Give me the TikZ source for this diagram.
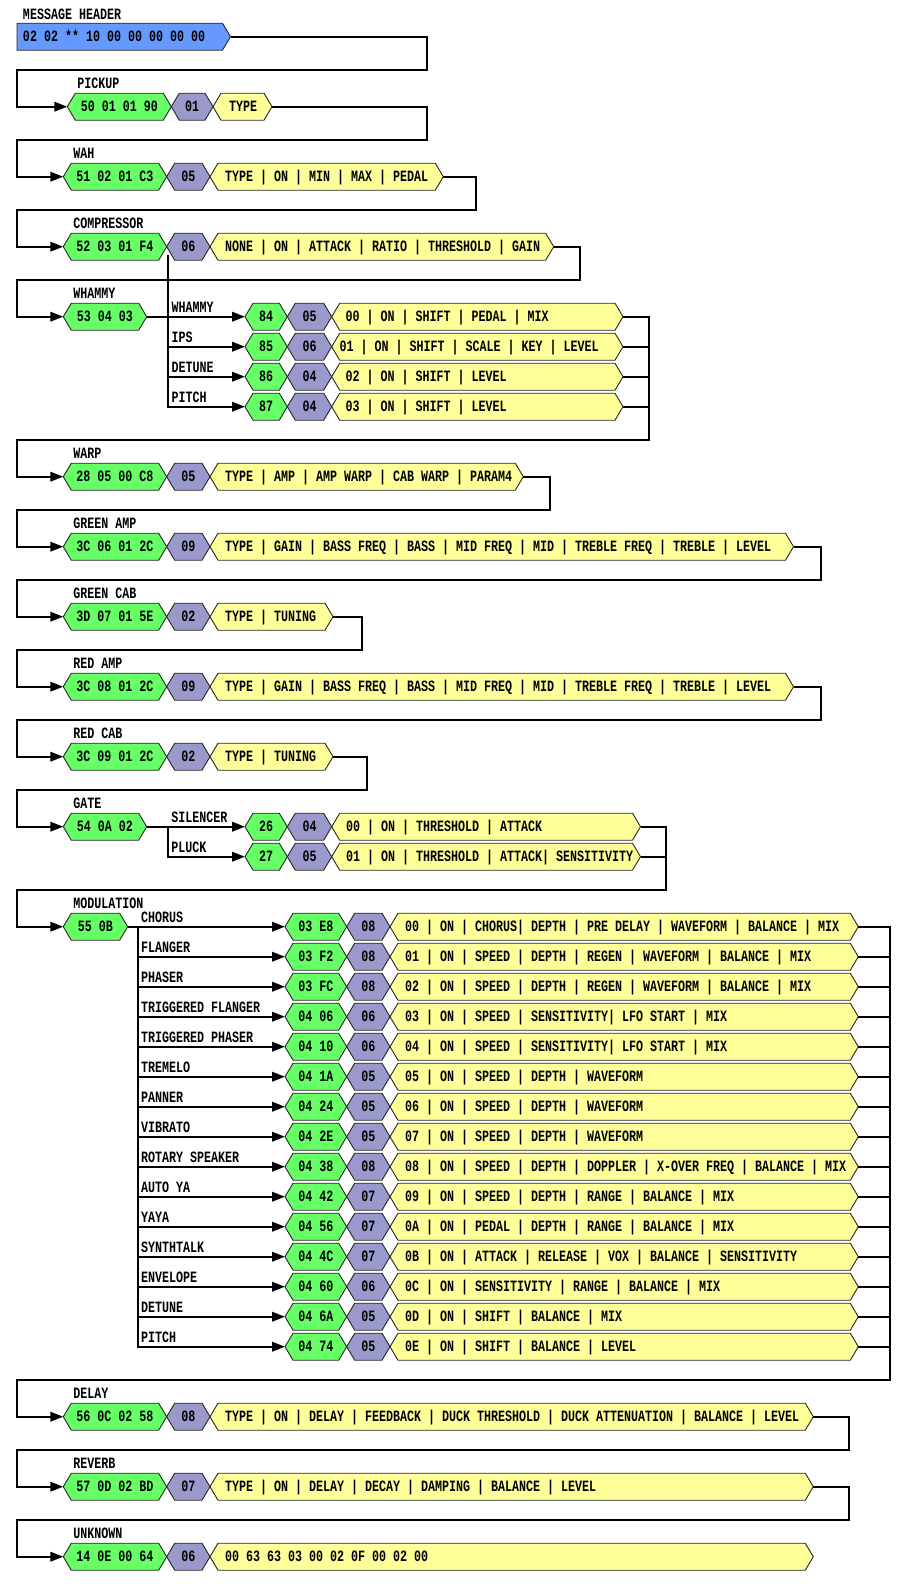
\documentclass[tikz,border=0pt]{standalone}
\usepackage{fontspec}
\usetikzlibrary{arrows.meta}
\newfontfamily\regfont{Liberation Mono}

\definecolor{hxgreen}{HTML}{66FF66}
\definecolor{hxpurple}{HTML}{9999CC}
\definecolor{hxyellow}{HTML}{FFFF99}
\definecolor{hxblue}{HTML}{6699FF}

% tall narrow lettering
\newcommand\tx[1]{\scalebox{1}[1.35]{#1}}

\tikzset{
  cell/.style={inner sep=0pt, outer sep=0pt, minimum height=27pt},
  hexline/.style={draw=black!85, line width=0.9pt, line join=miter},
  txt/.style={inner sep=0pt, outer sep=0pt, font=\regfont\bfseries\fontsize{11.667}{14}\selectfont},
  wire/.style={line width=2pt, black},
  arr/.style={wire, -{Triangle[length=13pt,width=9.5pt]}},
}

% hexagonal field: name, fill, left x, right x, row y
\newcommand\hexcell[5]{%
  \node[cell, minimum width={(#4)-(#3)}] (#1) at ({((#3)+(#4))/2},#5) {};
  \filldraw[hexline, fill=#2] (#1.west) -- ([xshift=8pt]#1.north west)
    -- ([xshift=-8pt]#1.north east) -- (#1.east) -- ([xshift=-8pt]#1.south east)
    -- ([xshift=8pt]#1.south west) -- cycle;}
% centred and left-set field texts
\newcommand\ctext[2]{\node[txt, anchor=base] (#1t) at ([yshift=-4.5pt]#1.center) {\tx{#2}};}
\newcommand\ltext[3]{\node[txt, anchor=base west] (#1t) at ([xshift=#2pt,yshift=-4.5pt]#1.west) {\tx{#3}};}
% one main record: name, row y, green right x, yellow right x, id, size, fields
\newcommand\entry[7]{%
  \hexcell{#1g}{hxgreen}{63.3}{#3}{#2}\ctext{#1g}{#5}%
  \hexcell{#1p}{hxpurple}{#3}{#3+43.3}{#2}\ctext{#1p}{#6}%
  \hexcell{#1y}{hxyellow}{#3+43.3}{#4}{#2}\ltext{#1y}{15}{#7}}
\newcommand\rowlabel[3]{\node[txt, anchor=base west] (#1) at ([xshift=10pt,yshift=18pt]#2.west) {\tx{#3}};}
% return connector: from, to, turn x, turn y
\newcommand\link[4]{\draw[arr] (#1.east) -| (#3,#4) -- (17,#4) |- (#2.west);}

\begin{document}
\begin{tikzpicture}[x=1pt,y=-1pt]
\useasboundingbox (0,0) rectangle (909,1588);

% header
\node[cell, minimum width=213.5] (hd) at (123.75,36.7) {};
\filldraw[hexline, fill=hxblue] (hd.north west) -- ([xshift=-8pt]hd.north east)
  -- (hd.east) -- ([xshift=-8pt]hd.south east) -- (hd.south west) -- cycle;
\ltext{hd}{6}{02 02 ** 10 00 00 00 00 00}
\node[txt, anchor=base west] (hdl) at ([xshift=6pt,yshift=17.5pt]hd.west) {\tx{MESSAGE HEADER}};

% pickup
\hexcell{pkg}{hxgreen}{67.3}{171.3}{106.7}\ctext{pkg}{50 01 01 90}
\hexcell{pkp}{hxpurple}{171.3}{213}{106.7}\ctext{pkp}{01}
\hexcell{pky}{hxyellow}{213}{272}{106.7}\ltext{pky}{16}{TYPE}
\rowlabel{pkl}{pkg}{PICKUP}

\entry{wa}{176.7}{166.7}{443.3}{51 02 01 C3}{05}{TYPE | ON | MIN | MAX | PEDAL}
\rowlabel{wal}{wag}{WAH}
\entry{co}{246.7}{166.7}{553.7}{52 03 01 F4}{06}{NONE | ON | ATTACK | RATIO | THRESHOLD | GAIN}
\rowlabel{col}{cog}{COMPRESSOR}

% whammy
\hexcell{whg}{hxgreen}{63.3}{146.7}{316.7}\ctext{whg}{53 04 03}
\rowlabel{whl}{whg}{WHAMMY}
\foreach \k/\yy/\gtx/\ptx/\off/\ytx/\lb in {
  1/316.7/84/05/14/{00 | ON | SHIFT | PEDAL | MIX}/WHAMMY,
  2/346.7/85/06/8/{01 | ON | SHIFT | SCALE | KEY | LEVEL}/IPS,
  3/376.7/86/04/14/{02 | ON | SHIFT | LEVEL}/DETUNE,
  4/406.7/87/04/14/{03 | ON | SHIFT | LEVEL}/PITCH}{
  \hexcell{w\k g}{hxgreen}{245}{287.3}{\yy}\ctext{w\k g}{\gtx}
  \hexcell{w\k p}{hxpurple}{287.3}{331.7}{\yy}\ctext{w\k p}{\ptx}
  \hexcell{w\k y}{hxyellow}{331.7}{623}{\yy}\ltext{w\k y}{\off}{\ytx}
  \node[txt, anchor=base west] (w\k l) at (171.7,{\yy-4.5}) {\tx{\lb}};
}

\entry{wp}{476.7}{166.7}{523.3}{28 05 00 C8}{05}{TYPE | AMP | AMP WARP | CAB WARP | PARAM4}
\rowlabel{wpl}{wpg}{WARP}
\entry{ga}{546.7}{166.7}{793.5}{3C 06 01 2C}{09}{TYPE | GAIN | BASS FREQ | BASS | MID FREQ | MID | TREBLE FREQ | TREBLE | LEVEL}
\rowlabel{gal}{gag}{GREEN AMP}
\entry{gc}{616.7}{166.7}{333}{3D 07 01 5E}{02}{TYPE | TUNING}
\rowlabel{gcl}{gcg}{GREEN CAB}
\entry{ra}{686.7}{166.7}{793.5}{3C 08 01 2C}{09}{TYPE | GAIN | BASS FREQ | BASS | MID FREQ | MID | TREBLE FREQ | TREBLE | LEVEL}
\rowlabel{ral}{rag}{RED AMP}
\entry{rc}{756.7}{166.7}{333}{3C 09 01 2C}{02}{TYPE | TUNING}
\rowlabel{rcl}{rcg}{RED CAB}

% gate
\hexcell{gtg}{hxgreen}{63.3}{146.7}{826.7}\ctext{gtg}{54 0A 02}
\rowlabel{gtl}{gtg}{GATE}
\foreach \k/\yy/\gtx/\ptx/\ytx/\lb in {
  1/826.7/26/04/{00 | ON | THRESHOLD | ATTACK}/SILENCER,
  2/856.7/27/05/{01 | ON | THRESHOLD | ATTACK| SENSITIVITY}/PLUCK}{
  \hexcell{g\k g}{hxgreen}{245}{287.3}{\yy}\ctext{g\k g}{\gtx}
  \hexcell{g\k p}{hxpurple}{287.3}{331.7}{\yy}\ctext{g\k p}{\ptx}
  \hexcell{g\k y}{hxyellow}{331.7}{640.5}{\yy}\ltext{g\k y}{14.5}{\ytx}
  \node[txt, anchor=base west] (g\k l) at (171.3,{\yy-4.5}) {\tx{\lb}};
}

% modulation
\hexcell{mog}{hxgreen}{63.3}{127.7}{926.7}\ctext{mog}{55 0B}
\rowlabel{mol}{mog}{MODULATION}
\foreach \k/\gtx/\ptx/\ytx/\lb in {
  1/03 E8/08/{00 | ON | CHORUS| DEPTH | PRE DELAY | WAVEFORM | BALANCE | MIX}/CHORUS,
  2/03 F2/08/{01 | ON | SPEED | DEPTH | REGEN | WAVEFORM | BALANCE | MIX}/FLANGER,
  3/03 FC/08/{02 | ON | SPEED | DEPTH | REGEN | WAVEFORM | BALANCE | MIX}/PHASER,
  4/04 06/06/{03 | ON | SPEED | SENSITIVITY| LFO START | MIX}/TRIGGERED FLANGER,
  5/04 10/06/{04 | ON | SPEED | SENSITIVITY| LFO START | MIX}/TRIGGERED PHASER,
  6/04 1A/05/{05 | ON | SPEED | DEPTH | WAVEFORM}/TREMELO,
  7/04 24/05/{06 | ON | SPEED | DEPTH | WAVEFORM}/PANNER,
  8/04 2E/05/{07 | ON | SPEED | DEPTH | WAVEFORM}/VIBRATO,
  9/04 38/08/{08 | ON | SPEED | DEPTH | DOPPLER | X-OVER FREQ | BALANCE | MIX}/ROTARY SPEAKER,
  10/04 42/07/{09 | ON | SPEED | DEPTH | RANGE | BALANCE | MIX}/AUTO YA,
  11/04 56/07/{0A | ON | PEDAL | DEPTH | RANGE | BALANCE | MIX}/YAYA,
  12/04 4C/07/{0B | ON | ATTACK | RELEASE | VOX | BALANCE | SENSITIVITY}/SYNTHTALK,
  13/04 60/06/{0C | ON | SENSITIVITY | RANGE | BALANCE | MIX}/ENVELOPE,
  14/04 6A/05/{0D | ON | SHIFT | BALANCE | MIX}/DETUNE,
  15/04 74/05/{0E | ON | SHIFT | BALANCE | LEVEL}/PITCH}{
  \pgfmathsetmacro\yy{926.7+30*(\k-1)}
  \hexcell{m\k g}{hxgreen}{285}{346.7}{\yy}\ctext{m\k g}{\gtx}
  \hexcell{m\k p}{hxpurple}{346.7}{390}{\yy}\ctext{m\k p}{\ptx}
  \hexcell{m\k y}{hxyellow}{390}{858.3}{\yy}\ltext{m\k y}{15}{\ytx}
  \node[txt, anchor=base west] (m\k l) at (141,{\yy-4.5}) {\tx{\lb}};
}

\entry{de}{1416.7}{166.7}{813.3}{56 0C 02 58}{08}{TYPE | ON | DELAY | FEEDBACK | DUCK THRESHOLD | DUCK ATTENUATION | BALANCE | LEVEL}
\rowlabel{del}{deg}{DELAY}
\entry{rv}{1486.7}{166.7}{813.3}{57 0D 02 BD}{07}{TYPE | ON | DELAY | DECAY | DAMPING | BALANCE | LEVEL}
\rowlabel{rvl}{rvg}{REVERB}
\entry{un}{1556.7}{166.7}{813.3}{14 0E 00 64}{06}{00 63 63 03 00 02 0F 00 02 00}
\rowlabel{unl}{ung}{UNKNOWN}

% trunk positions
\coordinate (wtr) at (168.3,255);
\coordinate (wrt) at (649.3,0);
\coordinate (gtr) at (168.3,826.7);
\coordinate (grt) at (665.7,0);
\coordinate (mtr) at (137.7,926.7);
\coordinate (mrt) at (890,0);

% chaining connectors
\link{hd}{pkg}{426.7}{70}
\link{pky}{wag}{426.7}{140}
\link{way}{cog}{475.7}{210}
\link{coy}{whg}{580}{280}
\draw[arr] (w1y.east) -| (649.3,440) -- (17,440) |- (wpg.west);
\link{wpy}{gag}{549.6}{510}
\link{gay}{gcg}{821}{580}
\link{gcy}{rag}{362.4}{650}
\link{ray}{rcg}{821}{720}
\link{rcy}{gtg}{367.4}{790}
\draw[arr] (g1y.east) -| (665.7,890) -- (17,890) |- (mog.west);
\draw[arr] (m1y.east) -| (890,1380) -- (17,1380) |- (deg.west);
\link{dey}{rvg}{849}{1450}
\link{rvy}{ung}{849}{1520}

% whammy branches
\draw[arr] (whg.east) -- (w1g.west);
\foreach \k in {2,3,4}{
  \draw[arr] (wtr) |- (w\k g.west);
  \draw[wire] (w\k y.east) -- (w\k y.east -| wrt);
}
% gate branches
\draw[arr] (gtg.east) -- (g1g.west);
\draw[arr] (gtr) |- (g2g.west);
\draw[wire] (g2y.east) -- (g2y.east -| grt);
% modulation branches
\draw[arr] (mog.east) -- (m1g.west);
\foreach \k in {2,...,15}{
  \draw[arr] (mtr) |- (m\k g.west);
  \draw[wire] (m\k y.east) -- (m\k y.east -| mrt);
}
\end{tikzpicture}
\end{document}
